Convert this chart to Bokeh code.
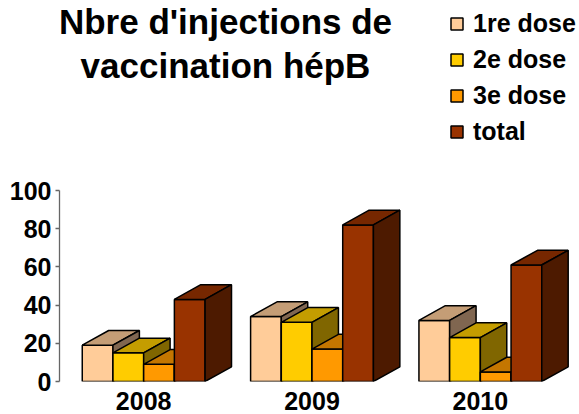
from bokeh.plotting import figure
from bokeh.models import Label, Legend, LegendItem, Range1d, FixedTicker
from bokeh.embed import file_html
from bokeh.resources import INLINE

years = ["2008", "2009", "2010"]
series = ["1re dose", "2e dose", "3e dose", "total"]
dose1 = [19, 34, 32]
dose2 = [15, 31, 23]
dose3 = [9, 17, 5]
total = [43, 82, 61]
front_colors = ["#FFCC99", "#FFCC00", "#FF9900", "#993300"]
top_colors = ["#C49D76", "#C49D00", "#C47600", "#762700"]
side_colors = ["#806650", "#806600", "#804C00", "#4D1A00"]
title_lines = "Nbre d'injections de\nvaccination hépB"
yticks = [0, 20, 40, 60, 80, 100]

FONT = "Liberation Sans"
BAR = 0.1824
DX = 0.157
DY = 7.7
LW = 1.5

p = figure(width=579, height=414, output_backend="svg", toolbar_location=None,
           x_range=Range1d(-0.5, 2.589), y_range=Range1d(0, 199.5),
           min_border_left=59, min_border_right=0, min_border_top=0, min_border_bottom=33,
           outline_line_color=None, background_fill_color=None, border_fill_color="white")
p.grid.visible = False

items = []
for s, vals in enumerate([dose1, dose2, dose3, total]):
    lefts = [g - 2 * BAR + s * BAR for g in range(len(vals))]
    rights = [l + BAR for l in lefts]
    front = p.quad(left=lefts, right=rights, bottom=0, top=vals, fill_color=front_colors[s],
                   line_color="black", line_width=LW)
    p.patches([[l, r, r + DX, l + DX] for l, r in zip(lefts, rights)],
              [[v, v, v + DY, v + DY] for v in vals],
              fill_color=top_colors[s], line_color="black", line_width=LW)
    p.patches([[r, r + DX, r + DX, r] for r in rights],
              [[0, DY, v + DY, v] for v in vals],
              fill_color=side_colors[s], line_color="black", line_width=LW)
    items.append(LegendItem(label=series[s], renderers=[front]))

ya = p.yaxis[0]
ya.ticker = FixedTicker(ticks=yticks)
ya.bounds = (0, 100)
ya.axis_line_color = "#666666"
ya.axis_line_width = 1.3
ya.major_tick_line_color = "#666666"
ya.major_tick_line_width = 1.3
ya.major_tick_in = 0
ya.major_tick_out = 4
ya.minor_tick_line_color = None
ya.major_label_text_font = FONT
ya.major_label_text_font_style = "bold"
ya.major_label_text_font_size = "25px"
ya.major_label_text_color = "black"
ya.major_label_standoff = 4

xa = p.xaxis[0]
xa.ticker = FixedTicker(ticks=list(range(len(years))))
xa.major_label_overrides = {i: y for i, y in enumerate(years)}
xa.axis_line_color = None
xa.major_tick_line_color = None
xa.minor_tick_line_color = None
xa.major_label_text_font = FONT
xa.major_label_text_font_style = "bold"
xa.major_label_text_font_size = "25px"
xa.major_label_text_color = "black"
xa.major_label_standoff = 4

legend = Legend(items=items, location=(390, 235), orientation="vertical",
                glyph_width=15, glyph_height=15, label_standoff=9, spacing=7,
                padding=0, margin=0, background_fill_alpha=0, border_line_color=None,
                label_text_font=FONT, label_text_font_style="bold",
                label_text_font_size="25px", label_text_color="black")
p.add_layout(legend, "center")

p.add_layout(Label(x=166, y=338, x_units="screen", y_units="screen", text=title_lines,
                   text_font=FONT, text_font_style="bold", text_font_size="35px",
                   text_align="center", text_baseline="middle", text_color="black",
                   text_line_height=1.12))

open("out.html", "w").write(file_html(p, INLINE))
